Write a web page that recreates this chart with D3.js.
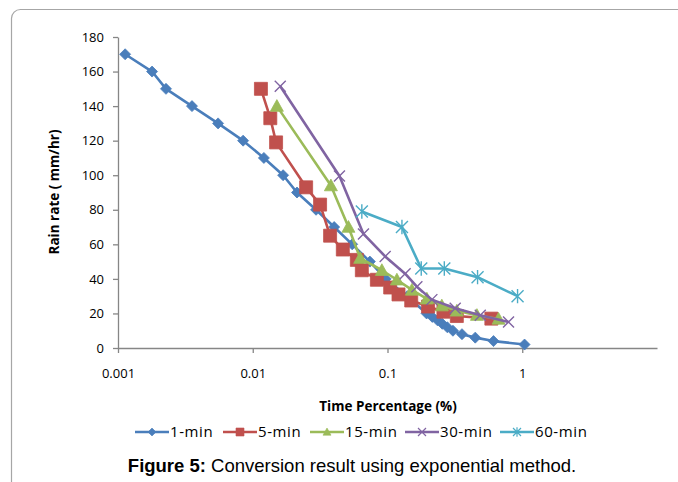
<!DOCTYPE html>
<html>
<head>
<meta charset="utf-8">
<script src="https://cdn.jsdelivr.net/npm/d3@7"></script>
<style>
  body { margin: 0; background: #fff; }
  svg text { font-family: "Open Sans", Lato, sans-serif; }
</style>
</head>
<body>
<svg id="chart" width="678" height="482"></svg>
<script>
// values: [time percentage, rain rate]
const min1 = [[0.00113,170],[0.00179,160],[0.00227,150],[0.00354,140],[0.00553,130],[0.00848,120],
  [0.0121,110],[0.0168,100],[0.0213,90],[0.0295,80],[0.0402,70],[0.0547,60],[0.074,50],[0.097,40],
  [0.14,30],[0.195,20],[0.215,18],[0.235,16],[0.255,14],[0.278,12],[0.306,10],[0.357,8],[0.448,6],
  [0.612,4],[1.04,2]];
const min5 = [[0.0115,150],[0.0135,133],[0.0149,119],[0.0249,93],[0.0316,83],[0.0375,65],[0.0466,57],
  [0.0592,51],[0.0645,45],[0.0834,39.5],[0.1047,35],[0.1207,31],[0.15,27.5],[0.2,24],[0.26,21],
  [0.327,18.5],[0.59,17]];
const min15 = [[0.0151,140],[0.038,94],[0.0513,70],[0.0627,52],[0.0908,45],[0.1174,39.5],[0.1517,33.6],
  [0.196,28.5],[0.253,24.5],[0.327,21.5],[0.461,19],[0.667,16.8]];
const min30 = [[0.016,151.5],[0.044,99.5],[0.0663,66],[0.0961,53],[0.1352,43],[0.1652,35.5],
  [0.2134,28],[0.318,23],[0.488,19],[0.791,15]];
const min60 = [[0.0645,79],[0.128,70],[0.178,46],[0.264,46],[0.466,41],[0.923,30]];

const seriesNames = ["1-min", "5-min", "15-min", "30-min", "60-min"];
const seriesData = [min1, min5, min15, min30, min60];
const colors = ["#4a7ebb", "#c0504d", "#9bbb59", "#8064a2", "#4bacc6"];
const xTicks = [0.001, 0.01, 0.1, 1];
const yTicks = [0, 20, 40, 60, 80, 100, 120, 140, 160, 180];

const svg = d3.select("#chart");

// outer frame (rounded corner, runs off the page right/bottom)
svg.append("rect")
  .attr("x", 11.5).attr("y", 9.5)
  .attr("width", 700).attr("height", 500)
  .attr("rx", 9)
  .attr("fill", "none").attr("stroke", "#a6a6a6").attr("stroke-width", 1.2);

const x = d3.scaleLog().domain([0.001, 10]).range([118, 657]);
const y = d3.scaleLinear().domain([0, 180]).range([348, 37]);

// axes
const xAxis = svg.append("g").attr("transform", `translate(0,${y(0)})`)
  .call(d3.axisBottom(x).tickValues(xTicks).tickFormat(d3.format("~g")).tickSize(5).tickSizeOuter(0));
const yAxis = svg.append("g").attr("transform", `translate(${x(0.001)},0)`)
  .call(d3.axisLeft(y).tickValues(yTicks).tickSize(5).tickSizeOuter(0));

[xAxis, yAxis].forEach(g => {
  g.select(".domain").attr("stroke", "#868686").attr("stroke-width", 1.3);
  g.selectAll(".tick line").attr("stroke", "#868686").attr("stroke-width", 1.3);
  g.selectAll(".tick text").attr("fill", "#000").style("font-size", "13px")
    .style("font-family", "'Open Sans', Lato, sans-serif");
});
xAxis.selectAll(".tick text").attr("dy", "1.7em");
yAxis.selectAll(".tick text").attr("x", -14);

// axis titles
svg.append("text")
  .attr("x", 388).attr("y", 411)
  .attr("text-anchor", "middle")
  .style("font-weight", "bold").style("font-size", "13.5px")
  .text("Time Percentage (%)");

svg.append("text")
  .attr("transform", "translate(59,192) rotate(-90)")
  .attr("text-anchor", "middle")
  .style("font-weight", "bold").style("font-size", "13.5px")
  .text("Rain rate ( mm/hr)");

// marker paths
function marker(kind, s) {
  const h = s / 2;
  if (kind === 0) return `M0,${-h}L${h},0L0,${h}L${-h},0Z`;
  if (kind === 1) return `M${-h},${-h}H${h}V${h}H${-h}Z`;
  if (kind === 2) return `M0,${-h}L${h},${h * 0.8}L${-h},${h * 0.8}Z`;
  if (kind === 3) return `M${-h},${-h}L${h},${h}M${-h},${h}L${h},${-h}`;
  return `M${-h},${-h}L${h},${h}M${-h},${h}L${h},${-h}M0,${-h * 1.2}V${h * 1.2}`;
}
const markerSize = [11, 13, 13, 11, 12];

const line = d3.line().x(d => x(d[0])).y(d => y(d[1]));

seriesData.forEach((data, i) => {
  const g = svg.append("g");
  g.append("path")
    .datum(data)
    .attr("d", line)
    .attr("fill", "none")
    .attr("stroke", colors[i])
    .attr("stroke-width", 2.6)
    .attr("stroke-linejoin", "round");
  const filled = i < 3;
  g.selectAll("path.pt")
    .data(data)
    .join("path")
    .attr("class", "pt")
    .attr("transform", d => `translate(${x(d[0])},${y(d[1])})`)
    .attr("d", marker(i, markerSize[i]))
    .attr("fill", filled ? colors[i] : "none")
    .attr("stroke", colors[i])
    .attr("stroke-width", filled ? 0.8 : 1.4);
});

// legend
const legendX = [135, 223, 310, 405, 500];
const legend = svg.append("g").attr("transform", "translate(0,432)");
seriesNames.forEach((name, i) => {
  const lg = legend.append("g").attr("transform", `translate(${legendX[i]},0)`);
  lg.append("line").attr("x1", 0).attr("x2", 34)
    .attr("stroke", colors[i]).attr("stroke-width", 2.6);
  lg.append("path")
    .attr("transform", "translate(17,0)")
    .attr("d", marker(i, 8))
    .attr("fill", i < 3 ? colors[i] : "none")
    .attr("stroke", colors[i]).attr("stroke-width", i < 3 ? 0.6 : 1.2);
  lg.append("text").attr("x", 35).attr("y", 5)
    .style("font-size", "15px")
    .style("letter-spacing", "0.6px")
    .text(name);
});

// caption
const cap = svg.append("text")
  .attr("x", 352).attr("y", 472)
  .attr("text-anchor", "middle")
  .style("font-family", "'Liberation Sans', Arial, sans-serif")
  .style("font-size", "18.5px");
cap.append("tspan").style("font-weight", "bold").style("font-family", "'Liberation Sans', Arial, sans-serif").text("Figure 5:");
cap.append("tspan").style("font-family", "'Liberation Sans', Arial, sans-serif").text(" Conversion result using exponential method.");
</script>
</body>
</html>
